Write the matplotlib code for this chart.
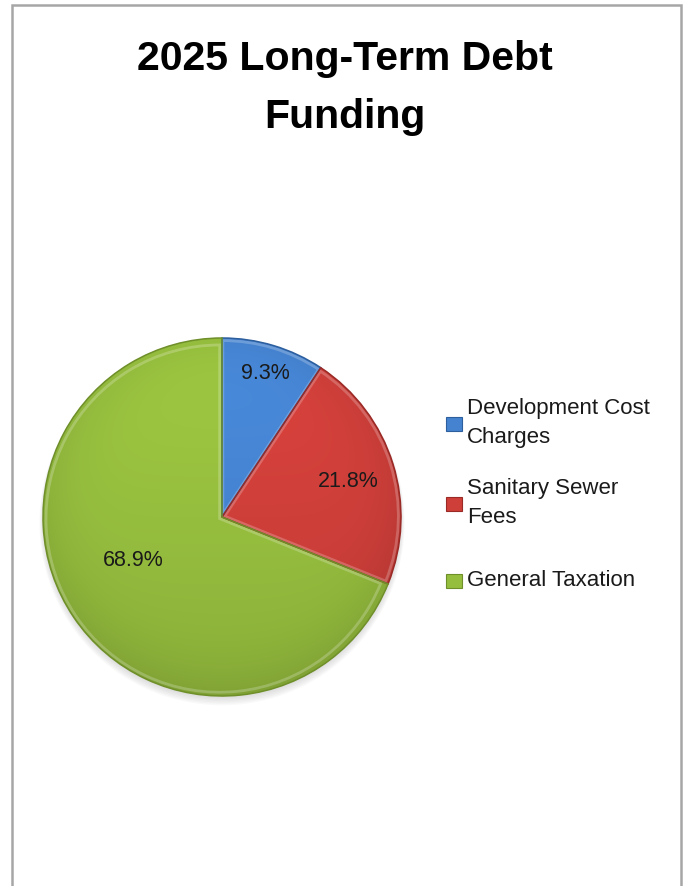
import numpy as np
import matplotlib
matplotlib.use('Agg')
import matplotlib.pyplot as plt
from matplotlib.colors import to_rgb
from matplotlib.patches import Rectangle, Wedge, Circle

plt.rcParams['font.family'] = ['Liberation Sans', 'DejaVu Sans']

# 资金来源及占比（%）
sources = ['Development Cost\nCharges', 'Sanitary Sewer\nFees', 'General Taxation']
shares = [9.3, 21.8, 68.9]
colors = ['#4583d0', '#cf3f3a', '#96be3e']
edge_colors = ['#2d5f9e', '#9a2a26', '#6f8f2a']
# 百分比标签位置：离圆心距离（相对半径）和相对扇区中线的角度偏移（度）
label_radius = [0.84, 0.73, 0.55]
label_shift = [0, -1.7, -8]

fig = plt.figure(figsize=(6.86, 8.86), dpi=100)
W, H = 686, 886

# 外框
fig.patches.append(Rectangle((12 / W, -0.01), (681 - 12) / W, (886 - 5) / H + 0.01,
                             transform=fig.transFigure, fill=False,
                             edgecolor='#a6a6a6', lw=1.8))

fig.text(0.503, 1 - 59 / H, '2025 Long-Term Debt', ha='center', va='center',
         fontsize=29.5, fontweight='bold')
fig.text(0.503, 1 - 117 / H, 'Funding', ha='center', va='center',
         fontsize=29.5, fontweight='bold')

# 饼图（坐标范围留出边线和阴影的余量）
lim = 1.06
R = 179 * lim
ax = fig.add_axes([(222 - R) / W, (886 - 517 - R) / H, 2 * R / W, 2 * R / H])

# 底部阴影
for k in range(6):
    ax.add_patch(Circle((0.0, -0.012 - 0.004 * k), 1.0 + 0.004 * k,
                        facecolor='#808080', edgecolor='none', alpha=0.045, zorder=0))

wedges, _ = ax.pie(shares, colors=colors, startangle=90, counterclock=False,
                   radius=1.0, wedgeprops=dict(linewidth=0))

# 明暗渐变（上亮下暗，边缘略暗）
n = 400
gx, gy = np.meshgrid(np.linspace(-1, 1, n), np.linspace(1, -1, n))
rr = np.sqrt(gx ** 2 + gy ** 2)
shade = 1.0 + 0.07 * gy - 0.08 * np.clip(rr, 0, 1) ** 6
for w, c, ec in zip(wedges, colors, edge_colors):
    img = np.clip(np.array(to_rgb(c))[None, None, :] * shade[..., None], 0, 1)
    im = ax.imshow(img, extent=(-1, 1, -1, 1), zorder=2, interpolation='bilinear')
    im.set_clip_path(w)
    # 斜面高光
    mid = np.deg2rad((w.theta1 + w.theta2) / 2)
    ax.add_patch(Wedge((0.016 * np.cos(mid), 0.016 * np.sin(mid)), 0.97,
                       w.theta1, w.theta2, fill=False, edgecolor='white',
                       alpha=0.22, lw=2.0, zorder=3))
    ax.add_patch(Wedge((0, 0), 1.0, w.theta1, w.theta2, fill=False,
                       edgecolor=ec, lw=1.1, zorder=4))

ax.set_xlim(-lim, lim)
ax.set_ylim(-lim, lim)
ax.set_aspect('equal')
ax.axis('off')

# 百分比标签
for w, v, r, d in zip(wedges, shares, label_radius, label_shift):
    ang = np.deg2rad((w.theta1 + w.theta2) / 2 + d)
    ax.text(r * np.cos(ang), r * np.sin(ang), f'{v:.1f}%', ha='center',
            va='center', fontsize=15.5, color='#1a1a1a', zorder=5)

# 图例
legend_rows = [423, 503, 580]
for name, c, ec, yy in zip(sources, colors, edge_colors, legend_rows):
    fig.patches.append(Rectangle((446 / W, 1 - (yy + 8) / H), 16 / W, 14 / H,
                                 transform=fig.transFigure, facecolor=c,
                                 edgecolor=ec, lw=0.8))
    fig.text(467 / W, 1 - yy / H, name, ha='left', va='center',
             fontsize=16, linespacing=1.45, color='#1a1a1a')

fig.savefig('out.png', dpi=100)
